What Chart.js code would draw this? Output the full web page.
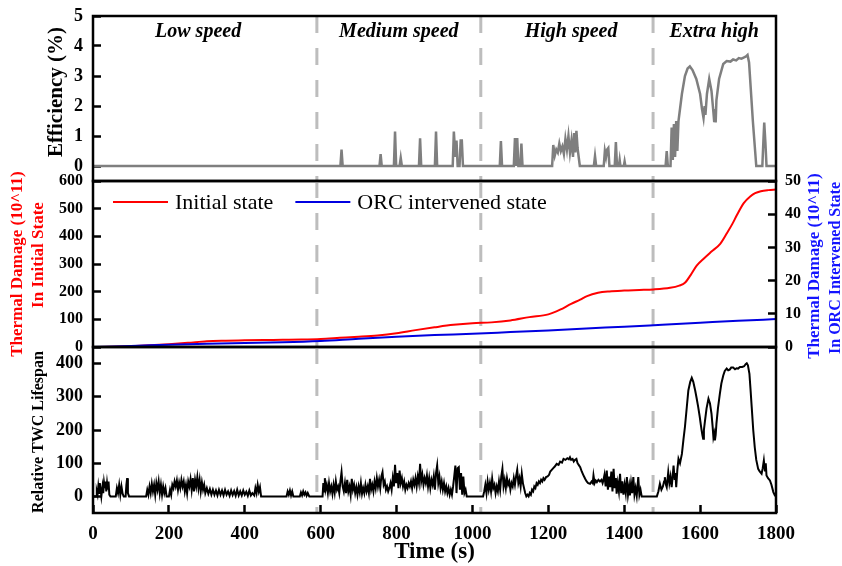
<!DOCTYPE html>
<html>
<head>
<meta charset="utf-8">
<script src="https://cdn.jsdelivr.net/npm/chart.js@4.4.1/dist/chart.umd.min.js"></script>
<style>
  html, body { margin: 0; padding: 0; background: #fff; }
  #wrap { position: relative; width: 842px; height: 566px; }
  #wrap canvas { position: absolute; left: 0; top: 0; }
</style>
</head>
<body>
<div id="wrap">
  <canvas id="eff" width="842" height="566"></canvas>
  <canvas id="dmg" width="842" height="566"></canvas>
  <canvas id="life" width="842" height="566"></canvas>
</div>
<script>
// driving regions (time in s)
const regionNames = ['Low speed', 'Medium speed', 'High speed', 'Extra high'];
const regionCenters = [277, 806, 1260, 1637];
const boundaries = [590, 1022, 1476];

// tick values
const timeTicks = [0, 200, 400, 600, 800, 1000, 1200, 1400, 1600, 1800];
const effTicks = [0, 1, 2, 3, 4, 5];
const dmgTicks = [0, 100, 200, 300, 400, 500, 600];
const orcTicks = [0, 10, 20, 30, 40, 50];
const lifeTicks = [0, 100, 200, 300, 400];

// efficiency (%), [time, value]
const effPoints = [
  [0,0],[652,0],[655,0.55],[658,0],[755,0],[758,0.4],[761,0],
  [793,0],[796,1.15],[799,0],[808,0],[811,0.27],[814,0],
  [859,0],[862,0.92],[865,0],[901,0],[904,1.15],[907,0],
  [948,0],[951,1.15],[955,0.3],[958,0.85],[961,0],[966,0],[969,0.85],[972,0.85],[975,0],
  [1072,0],[1075,0.83],[1078,0],
  [1109,0],[1112,0.93],[1115,0],[1118,0.93],[1121,0],[1126,0],[1129,0.75],[1132,0],
  [1210,0],[1213,0.7],[1217,0.35],[1221,0.55],[1225,0.45],[1229,0.75],[1233,0.5],[1237,0.65],
  [1241,0.4],[1245,0.9],[1249,0.55],[1253,1.0],[1257,0.45],[1261,0.85],[1265,0.3],[1268,1.1],
  [1271,0.45],[1274,1.17],[1277,0.6],[1280,0.3],[1283,0],
  [1320,0],[1323,0.33],[1326,0],
  [1346,0],[1349,0.5],[1352,0.3],[1355,0.55],[1358,0.6],[1361,0],
  [1375,0],[1378,0.8],[1381,0],[1386,0],[1388,0.2],[1390,0],[1399,0],[1401,0.15],[1403,0],
  [1509,0],[1512,0.5],[1515,0],
  [1522,0],[1525,1.28],[1528,0.2],[1531,1.4],[1534,0.3],[1537,1.5],[1540,0.5],[1543,1.5],
  [1552,2.4],[1560,3.0],[1567,3.25],[1573,3.32],[1580,3.2],[1590,2.9],[1600,2.4],[1605,1.9],
  [1609,1.6],[1612,2.0],[1614,1.7],[1618,2.4],[1624,2.9],[1630,2.5],[1635,1.8],[1637,1.5],
  [1639,1.9],[1641,1.45],[1643,2.2],[1650,2.9],[1661,3.4],[1670,3.5],[1680,3.48],[1687,3.55],
  [1695,3.52],[1702,3.6],[1709,3.58],[1716,3.62],[1721,3.65],[1725,3.7],[1729,3.45],[1739,1.5],
  [1748,0],[1764,0],[1767,0.9],[1769,1.45],[1772,0.8],[1775,0],[1800,0]
];

// thermal damage (10^11)
const initialPoints = [
  [0,0],[50,1],[100,3],[150,6],[200,10],[250,15],[300,21],[350,23],[400,24],[450,25],
  [500,26],[550,27],[600,29],[650,33],[700,37],[750,42],[800,50],[850,61],[900,71],[950,80],
  [1000,86],[1050,89],[1100,96],[1150,108],[1200,118],[1231,135],[1260,156],[1284,171],
  [1302,184],[1331,196],[1361,201],[1400,204],[1440,206],[1477,208],[1521,214],[1545,222],
  [1560,232],[1575,260],[1591,294],[1610,320],[1630,345],[1653,373],[1670,410],[1685,445],
  [1697,477],[1715,520],[1732,544],[1745,556],[1760,563],[1780,567],[1800,569]
];
const orcPoints = [
  [0,0],[100,0.3],[200,0.7],[300,1.0],[400,1.2],[500,1.4],[600,1.8],[700,2.5],[800,3.1],
  [900,3.6],[1000,4.0],[1100,4.5],[1200,5.0],[1300,5.6],[1400,6.1],[1500,6.7],[1600,7.3],
  [1700,7.9],[1800,8.4]
];

// relative TWC lifespan
const lifePoints = [
  [0,0],[8,0],[10,15],[12,5],[14,30],[16,10],[18,40],[20,20],[22,0],[25,30],[27,10],[29,42],
  [31,25],[33,45],[35,15],[37,40],[39,20],[41,45],[43,5],[46,0],[60,0],[63,25],[66,10],[69,35],
  [72,5],[75,30],[78,8],[81,0],[86,0],[88,35],[90,55],[92,10],[95,0],
  [140,0],[143,20],[146,5],[149,30],[152,10],[155,38],[158,15],[161,35],[164,5],[167,40],
  [170,20],[173,45],[176,10],[179,35],[182,5],[185,30],[188,10],[191,25],[194,0],[200,0],
  [203,20],[206,5],[209,35],[212,25],[215,45],[218,30],[221,48],[224,20],[227,42],[230,25],
  [233,50],[236,30],[239,45],[242,15],[245,35],[248,10],[251,45],[254,30],[257,52],[260,20],
  [263,55],[266,15],[269,50],[272,30],[275,58],[278,25],[281,50],[284,15],[287,42],[290,20],
  [293,35],[296,10],[300,25],[304,8],[308,22],[312,5],[316,20],[320,5],[324,18],[328,3],
  [332,20],[336,5],[340,18],[344,3],[348,20],[352,5],[356,15],[360,2],[364,18],[368,4],
  [372,16],[376,2],[380,20],[384,3],[388,15],[392,3],[396,18],[400,5],[404,14],[408,2],
  [412,18],[416,3],[420,10],[425,3],[428,25],[431,10],[434,35],[437,15],[440,28],[443,0],
  [510,0],[513,15],[516,5],[519,18],[522,3],[525,15],[528,0],[545,0],[548,12],[551,3],
  [554,15],[557,5],[560,12],[563,2],[566,10],[570,0],[605,0],
  [607,40],[609,15],[611,55],[613,20],[616,35],[619,10],[622,40],[625,15],[628,30],[631,8],
  [634,35],[637,12],[640,45],[643,20],[646,30],[649,10],[652,45],[655,73],[658,30],[661,15],
  [664,40],[667,10],[670,50],[673,15],[676,30],[679,5],[682,53],[685,20],[688,35],[691,10],
  [694,28],[697,5],[700,30],[703,12],[706,40],[709,8],[712,25],[715,10],[718,35],[721,15],
  [724,30],[727,10],[730,53],[733,20],[736,35],[739,15],[742,45],[745,25],[748,55],[751,30],
  [754,50],[757,25],[760,60],[763,73],[766,35],[769,45],[772,20],[775,30],[778,15],[781,25],
  [784,40],[787,20],[790,55],[793,30],[796,95],[799,40],[802,70],[805,25],[808,78],[811,40],
  [814,55],[817,30],[820,45],[823,20],[826,35],[829,25],[832,40],[835,30],[838,45],[841,25],
  [844,50],[847,35],[850,55],[853,30],[856,60],[859,40],[862,98],[865,45],[868,65],[871,35],
  [874,55],[877,40],[880,63],[883,30],[886,55],[889,25],[892,50],[895,35],[898,60],[901,20],
  [904,70],[907,93],[910,40],[913,60],[916,25],[919,45],[922,20],[925,40],[928,15],[931,30],
  [934,10],[937,25],[940,5],[943,20],[946,5],[949,30],[952,60],[955,93],[958,10],[961,85],
  [964,88],[967,20],[970,70],[973,5],[976,60],[979,10],[982,20],[985,0],[1028,0],
  [1031,15],[1034,35],[1037,10],[1040,45],[1043,20],[1046,40],[1049,15],[1052,53],[1055,25],
  [1058,35],[1061,10],[1064,30],[1067,15],[1070,45],[1073,20],[1076,60],[1079,83],[1082,30],
  [1085,50],[1088,25],[1091,55],[1094,35],[1097,45],[1100,20],[1103,40],[1106,30],[1109,55],
  [1112,35],[1115,60],[1118,80],[1121,40],[1124,55],[1127,30],[1130,68],[1133,40],[1136,25],
  [1139,10],[1142,0],[1145,5],[1148,0],[1151,10],[1154,5],[1157,20],[1160,15],[1163,30],
  [1166,25],[1169,40],[1172,35],[1175,45],[1178,40],[1181,50],[1184,45],[1187,55],[1190,50],
  [1194,58],[1198,60],[1202,65],[1205,75],[1209,80],[1213,85],[1217,90],[1222,98],[1227,95],
  [1231,105],[1236,102],[1240,113],[1245,110],[1250,115],[1254,112],[1257,118],[1260,110],
  [1264,113],[1267,105],[1270,110],[1274,113],[1277,100],[1280,95],[1284,88],[1288,75],
  [1292,65],[1297,53],[1301,45],[1305,40],[1310,38],[1314,45],[1317,40],[1319,63],[1322,40],
  [1325,48],[1328,43],[1332,50],[1336,45],[1340,50],[1343,40],[1345,48],[1348,65],[1351,30],
  [1354,78],[1357,20],[1360,60],[1363,28],[1366,75],[1369,15],[1372,83],[1375,25],[1378,55],
  [1380,8],[1383,40],[1386,15],[1389,68],[1392,10],[1395,45],[1398,5],[1401,35],[1404,10],
  [1407,58],[1410,5],[1413,30],[1415,3],[1418,40],[1421,10],[1424,58],[1427,5],[1430,25],
  [1433,2],[1437,58],[1440,5],[1443,20],[1446,0],[1486,0],
  [1490,15],[1494,38],[1498,20],[1502,30],[1505,45],[1507,58],[1510,35],[1512,28],[1514,50],
  [1516,73],[1519,40],[1522,60],[1525,28],[1528,65],[1530,93],[1533,50],[1535,70],[1537,28],
  [1540,80],[1543,113],[1547,100],[1552,128],[1556,170],[1560,209],[1565,270],[1569,319],
  [1574,345],[1578,357],[1582,345],[1587,319],[1591,295],[1595,269],[1599,240],[1602,215],
  [1604,199],[1606,185],[1608,174],[1610,200],[1613,229],[1617,265],[1622,294],[1626,280],
  [1630,249],[1633,210],[1635,179],[1637,190],[1639,169],[1641,185],[1643,219],[1647,265],
  [1652,309],[1656,340],[1661,364],[1665,378],[1670,385],[1674,380],[1678,382],[1682,388],
  [1687,388],[1692,383],[1696,386],[1700,385],[1705,390],[1711,390],[1716,392],[1720,398],
  [1723,401],[1726,395],[1730,369],[1733,320],[1736,269],[1740,200],[1744,148],[1748,110],
  [1753,83],[1757,75],[1762,68],[1765,85],[1768,108],[1771,75],[1773,100],[1775,63],
  [1779,55],[1784,48],[1788,35],[1793,13],[1797,3],[1800,0]
];

const SERIF = "'Liberation Serif', 'Times New Roman', serif";
const LEFT = 93, RIGHT = 776, H = 566;
const toXY = pts => pts.map(([x, y]) => ({ x, y }));
const fixTicks = values => s => { s.ticks = values.map(value => ({ value })); };
const noOverflow = s => { s.paddingTop = 0; s.paddingBottom = 0; s.paddingLeft = 0; s.paddingRight = 0; };

Chart.defaults.font.family = SERIF;
Chart.defaults.color = '#000';

// inward tick marks (negative length), no grid lines
const inTicks = {
  display: true, drawOnChartArea: false, drawTicks: true,
  tickLength: -8, tickWidth: 2.5, tickColor: '#000'
};

// thick black box round the plot area
const framePlugin = {
  id: 'frame',
  afterDraw(chart) {
    const { ctx, chartArea: a } = chart;
    ctx.save();
    ctx.strokeStyle = '#000';
    ctx.lineWidth = 2.5;
    ctx.setLineDash([]);
    ctx.strokeRect(a.left, a.top, a.right - a.left, a.bottom - a.top);
    ctx.restore();
  }
};

// grey dashed region boundaries
const bandPlugin = {
  id: 'bands',
  beforeDatasetsDraw(chart) {
    const { ctx, chartArea: a } = chart;
    const x = chart.scales.x;
    ctx.save();
    ctx.strokeStyle = '#bdbdbd';
    ctx.lineWidth = 3;
    ctx.setLineDash([17, 15]);
    boundaries.forEach(b => {
      const p = x.getPixelForValue(b);
      ctx.beginPath();
      ctx.moveTo(p, a.top);
      ctx.lineTo(p, a.bottom);
      ctx.stroke();
    });
    ctx.restore();
  }
};

// rotated axis titles, region names, in-plot legend
function textPlugin(cfg) {
  return {
    id: 'texts',
    afterDraw(chart) {
      const ctx = chart.ctx;
      (cfg.vertical || []).forEach(t => {
        ctx.save();
        ctx.translate(t.x, t.y);
        ctx.rotate(-Math.PI / 2);
        ctx.font = `bold ${t.size}px ${SERIF}`;
        ctx.fillStyle = t.color;
        ctx.textAlign = 'center';
        ctx.textBaseline = 'middle';
        ctx.fillText(t.text, 0, 0);
        ctx.restore();
      });
      if (cfg.regions) {
        const x = chart.scales.x;
        ctx.save();
        ctx.font = `italic bold 20px ${SERIF}`;
        ctx.fillStyle = '#000';
        ctx.textAlign = 'center';
        ctx.textBaseline = 'middle';
        regionNames.forEach((n, i) => ctx.fillText(n, x.getPixelForValue(regionCenters[i]), chart.chartArea.top + 16));
        ctx.restore();
      }
      if (cfg.legend) {
        const a = chart.chartArea;
        let x = a.left + 20;
        const y = a.top + 21;
        ctx.save();
        ctx.font = `22px ${SERIF}`;
        ctx.textBaseline = 'middle';
        chart.data.datasets.forEach(ds => {
          ctx.strokeStyle = ds.borderColor;
          ctx.lineWidth = 2;
          ctx.beginPath();
          ctx.moveTo(x, y);
          ctx.lineTo(x + 55, y);
          ctx.stroke();
          x += 62;
          ctx.fillStyle = '#000';
          ctx.fillText(ds.label, x, y + 1);
          x += ctx.measureText(ds.label).width + 22;
        });
        ctx.restore();
      }
    }
  };
}

function xAxis(show) {
  return {
    type: 'linear', min: 0, max: 1800, display: show,
    grid: inTicks, border: { display: false },
    afterBuildTicks: fixTicks(timeTicks),
    ticks: { autoSkip: false, maxRotation: 0, padding: 18, callback: v => String(v),
             font: { size: 19, weight: 'bold' } },
    title: { display: show, text: 'Time (s)', font: { size: 23, weight: 'bold' },
             padding: { top: 0, bottom: 0 } },
    afterFit: s => { s.height = show ? H - 513 : 0; noOverflow(s); }
  };
}

function yAxis(position, min, max, values, size, width, pad) {
  return {
    position, min, max,
    grid: inTicks, border: { display: false },
    afterBuildTicks: fixTicks(values),
    ticks: { autoSkip: false, padding: pad, callback: v => String(v),
             font: { size, weight: 'bold' } },
    afterFit: s => { s.width = width; noOverflow(s); }
  };
}

const base = {
  responsive: false,
  maintainAspectRatio: false,
  animation: false,
  devicePixelRatio: 1,
  elements: { point: { radius: 0 } }
};

// top: efficiency
new Chart(document.getElementById('eff'), {
  type: 'line',
  data: { datasets: [{ label: 'Efficiency', data: toXY(effPoints), borderColor: '#7f7f7f', borderWidth: 2.5, tension: 0 }] },
  options: {
    ...base,
    layout: { autoPadding: false, padding: { top: 16, bottom: H - 181, left: 0, right: 842 - RIGHT } },
    scales: { x: xAxis(false), y: yAxis('left', -0.5, 5, effTicks, 18, LEFT, 18) },
    plugins: { legend: { display: false }, tooltip: { enabled: false } }
  },
  plugins: [bandPlugin, framePlugin,
    textPlugin({ regions: true, vertical: [{ text: 'Efficiency (%)', x: 57, y: 92, size: 21, color: '#000' }] })]
});

// middle: thermal damage
new Chart(document.getElementById('dmg'), {
  type: 'line',
  data: { datasets: [
    { label: 'Initial state', data: toXY(initialPoints), borderColor: '#ff0000', borderWidth: 2,
      cubicInterpolationMode: 'monotone', yAxisID: 'y', order: 1 },
    { label: 'ORC intervened state', data: toXY(orcPoints), borderColor: '#0000e0', borderWidth: 2,
      cubicInterpolationMode: 'monotone', yAxisID: 'y2', order: 0 }
  ] },
  options: {
    ...base,
    layout: { autoPadding: false, padding: { top: 181, bottom: H - 347, left: 0, right: 0 } },
    scales: {
      x: xAxis(false),
      y: yAxis('left', 0, 600, dmgTicks, 16, LEFT, 18),
      y2: yAxis('right', 0, 50, orcTicks, 16, 842 - RIGHT, 17)
    },
    plugins: { legend: { display: false }, tooltip: { enabled: false } }
  },
  plugins: [bandPlugin, framePlugin,
    textPlugin({
      legend: true,
      vertical: [
        { text: 'Thermal Damage (10^11)', x: 18, y: 264, size: 17, color: '#ff0000' },
        { text: 'In Initial State', x: 39, y: 255, size: 17, color: '#ff0000' },
        { text: 'Thermal Damage (10^11)', x: 815, y: 266, size: 17, color: '#1414ff' },
        { text: 'In ORC Intervened State', x: 836, y: 268, size: 16, color: '#1414ff' }
      ]
    })]
});

// bottom: relative TWC lifespan
new Chart(document.getElementById('life'), {
  type: 'line',
  data: { datasets: [{ label: 'Relative TWC Lifespan', data: toXY(lifePoints), borderColor: '#000', borderWidth: 2, tension: 0 }] },
  options: {
    ...base,
    layout: { autoPadding: false, padding: { top: 347, bottom: 0, left: 0, right: 842 - RIGHT } },
    scales: { x: xAxis(true), y: yAxis('left', -50, 450, lifeTicks, 18, LEFT, 18) },
    plugins: { legend: { display: false }, tooltip: { enabled: false } }
  },
  plugins: [bandPlugin, framePlugin,
    textPlugin({ vertical: [{ text: 'Relative TWC Lifespan', x: 39, y: 432, size: 16, color: '#000' }] })]
});
</script>
</body>
</html>
